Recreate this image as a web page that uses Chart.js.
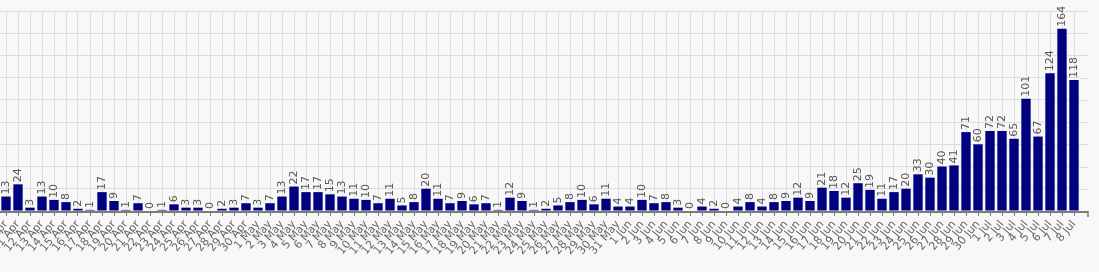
<!DOCTYPE html>
<html>
<head>
<meta charset="utf-8">
<script src="https://cdn.jsdelivr.net/npm/chart.js@4"></script>
<style>
  html, body { margin: 0; padding: 0; background: #f8f8f8; }
  #chart { display: block; }
</style>
</head>
<body>
<canvas id="chart" width="1099" height="272"></canvas>
<script>
// dias (10 Abr - 8 Jul)
const labels = [
  "10 Apr", "11 Apr", "12 Apr", "13 Apr", "14 Apr", "15 Apr", "16 Apr", "17 Apr", "18 Apr", "19 Apr",
  "20 Apr", "21 Apr", "22 Apr", "23 Apr", "24 Apr", "25 Apr", "26 Apr", "27 Apr", "28 Apr", "29 Apr",
  "30 Apr", "1 May", "2 May", "3 May", "4 May", "5 May", "6 May", "7 May", "8 May", "9 May",
  "10 May", "11 May", "12 May", "13 May", "14 May", "15 May", "16 May", "17 May", "18 May", "19 May",
  "20 May", "21 May", "22 May", "23 May", "24 May", "25 May", "26 May", "27 May", "28 May", "29 May",
  "30 May", "31 May", "1 Jun", "2 Jun", "3 Jun", "4 Jun", "5 Jun", "6 Jun", "7 Jun", "8 Jun",
  "9 Jun", "10 Jun", "11 Jun", "12 Jun", "13 Jun", "14 Jun", "15 Jun", "16 Jun", "17 Jun", "18 Jun",
  "19 Jun", "20 Jun", "21 Jun", "22 Jun", "23 Jun", "24 Jun", "25 Jun", "26 Jun", "27 Jun", "28 Jun",
  "29 Jun", "30 Jun", "1 Jul", "2 Jul", "3 Jul", "4 Jul", "5 Jul", "6 Jul", "7 Jul", "8 Jul",
];

const casos = [
  13, 24, 3, 13, 10, 8, 2, 1, 17, 9,
  1, 7, 0, 1, 6, 3, 3, 0, 2, 3,
  7, 3, 7, 13, 22, 17, 17, 15, 13, 11,
  10, 7, 11, 5, 8, 20, 11, 7, 9, 6,
  7, 1, 12, 9, 1, 2, 5, 8, 10, 6,
  11, 4, 4, 10, 7, 8, 3, 0, 4, 2,
  0, 4, 8, 4, 8, 9, 12, 9, 21, 18,
  12, 25, 19, 11, 17, 20, 33, 30, 40, 41,
  71, 60, 72, 72, 65, 101, 67, 124, 164, 118,
];

const yMax = 180;
const yStep = 20;

// rótulos de valor em cima das barras
const valueLabels = {
  id: "valueLabels",
  afterDatasetsDraw(chart) {
    const ctx = chart.ctx;
    const meta = chart.getDatasetMeta(0);
    ctx.save();
    ctx.fillStyle = "#555";
    ctx.font = "11px 'DejaVu Sans'";
    ctx.textAlign = "left";
    ctx.textBaseline = "middle";
    meta.data.forEach((bar, i) => {
      ctx.save();
      ctx.translate(bar.x, bar.y - 2);
      ctx.rotate(-Math.PI / 2);
      ctx.fillText(String(casos[i]), 0, 0);
      ctx.restore();
    });
    ctx.restore();
  },
};

// prolonga grade e eixo até a borda direita
const axisExtend = {
  id: "axisExtend",
  afterDraw(chart) {
    const ctx = chart.ctx;
    const area = chart.chartArea;
    const yScale = chart.scales.y;
    const endX = 1088;
    ctx.save();
    ctx.strokeStyle = "#dddddd";
    ctx.lineWidth = 1;
    yScale.ticks.forEach((t) => {
      if (t.value === 0) return;
      const y = Math.round(yScale.getPixelForValue(t.value)) + 0.5;
      ctx.beginPath();
      ctx.moveTo(area.right, y);
      ctx.lineTo(endX, y);
      ctx.stroke();
    });
    ctx.strokeStyle = "#7a7a7a";
    ctx.lineWidth = 2;
    ctx.beginPath();
    ctx.moveTo(area.left, area.bottom + 1);
    ctx.lineTo(endX, area.bottom + 1);
    ctx.stroke();
    ctx.lineWidth = 1.5;
    ctx.beginPath();
    ctx.moveTo(endX, area.bottom);
    ctx.lineTo(endX, area.bottom + 6);
    ctx.stroke();
    ctx.restore();
  },
};

const ctx = document.getElementById("chart").getContext("2d");
new Chart(ctx, {
  type: "bar",
  data: {
    labels: labels,
    datasets: [
      {
        data: casos,
        backgroundColor: "#000080",
        borderWidth: 0,
        categoryPercentage: 1.0,
        barPercentage: 0.78,
      },
    ],
  },
  options: {
    responsive: false,
    animation: false,
    layout: { padding: { left: 0, right: 19, top: 11, bottom: 0 } },
    plugins: {
      legend: { display: false },
      tooltip: { enabled: false },
    },
    scales: {
      x: {
        offset: true,
        border: { display: false },
        grid: {
          offset: false,
          color: "#dddddd",
          tickColor: "#7a7a7a",
          tickLength: 5,
        },
        ticks: {
          autoSkip: false,
          maxRotation: 50,
          minRotation: 50,
          padding: 2,
          color: "#666",
          font: { family: "'DejaVu Sans'", size: 11 },
        },
        afterFit(scale) {
          scale.height = 61;
          scale.paddingLeft = 0;
          scale.paddingRight = 0;
        },
      },
      y: {
        min: 0,
        max: yMax,
        border: { display: false },
        grid: { color: "#dddddd", drawTicks: false },
        ticks: { display: false, stepSize: yStep },
        afterFit(scale) {
          scale.width = 0;
        },
      },
    },
  },
  plugins: [valueLabels, axisExtend],
});
</script>
</body>
</html>
